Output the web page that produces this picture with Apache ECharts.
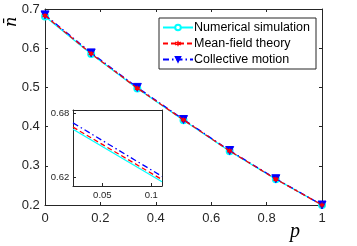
<!DOCTYPE html>
<html><head><meta charset="utf-8">
<script src="https://cdn.jsdelivr.net/npm/echarts@6/dist/echarts.min.js"></script>
<style>html,body{margin:0;padding:0;background:#fff}#c{width:357px;height:246px}</style>
</head><body><div id="c"></div>
<script>
// ---- data ----
const pValues = [0, 0.1667, 0.3333, 0.5, 0.6667, 0.8333, 1];
const numericalSim = [0.681, 0.585, 0.497, 0.416, 0.337, 0.266, 0.2];
const meanField = [0.683, 0.586, 0.498, 0.417, 0.338, 0.266, 0.2];
const collective = [0.685, 0.588, 0.500, 0.418, 0.339, 0.267, 0.2];
const xTicks = [0, 0.2, 0.4, 0.6, 0.8, 1];
const yTicks = [0.2, 0.3, 0.4, 0.5, 0.6, 0.7];
// inset (zoom near p = 0.02 .. 0.11)
const insetP = [0.02, 0.111];
const insetNumerical = [0.665, 0.616];
const insetMeanField = [0.667, 0.618];
const insetCollective = [0.671, 0.621];
const insetXTicks = [0.05, 0.1];
const insetYTicks = [0.62, 0.68];
const seriesNames = ['Numerical simulation', 'Mean-field theory', 'Collective motion'];

const AX = '#262626';
const CYAN = '#00ffff', RED = '#ff0000', BLUE = '#0000ff';
const asterisk = 'path://M0,-5L0,5M-4.3,-2.5L4.3,2.5M-4.3,2.5L4.3,-2.5';
const pairs = (xs, ys) => xs.map((x, i) => [x, ys[i]]);

const chart = echarts.init(document.getElementById('c'), null, {renderer: 'canvas'});
const tickFont = {fontFamily: 'Liberation Sans, Arial, sans-serif', color: AX};

function boxAxes(gridIndex, xmin, xmax, ymin, ymax, xT, yT, fs, mirrorTicks) {
  const xa = [], ya = [];
  xa.push({type: 'value', gridIndex, min: xmin, max: xmax, position: 'bottom',
    axisLine: {show: true, onZero: false, lineStyle: {color: AX, width: 1}},
    axisTick: {show: true, inside: true, length: 3, customValues: xT, lineStyle: {color: AX}},
    axisLabel: {show: true, customValues: xT, fontSize: fs, margin: fs * 0.5, ...tickFont,
      formatter: v => String(+v.toFixed(3))},
    splitLine: {show: false}});
  xa.push({type: 'value', gridIndex, min: xmin, max: xmax, position: 'top',
    axisLine: {show: true, onZero: false, lineStyle: {color: AX, width: 1}},
    axisTick: {show: mirrorTicks, inside: true, length: 3, customValues: xT, lineStyle: {color: AX}},
    axisLabel: {show: false}, splitLine: {show: false}});
  ya.push({type: 'value', gridIndex, min: ymin, max: ymax, position: 'left',
    axisLine: {show: true, onZero: false, lineStyle: {color: AX, width: 1}},
    axisTick: {show: true, inside: true, length: 3, customValues: yT, lineStyle: {color: AX}},
    axisLabel: {show: true, customValues: yT, fontSize: fs, margin: fs * 0.4, ...tickFont,
      formatter: v => String(+v.toFixed(3))},
    splitLine: {show: false}});
  ya.push({type: 'value', gridIndex, min: ymin, max: ymax, position: 'right',
    axisLine: {show: true, onZero: false, lineStyle: {color: AX, width: 1}},
    axisTick: {show: mirrorTicks, inside: true, length: 3, customValues: yT, lineStyle: {color: AX}},
    axisLabel: {show: false}, splitLine: {show: false}});
  return {xa, ya};
}
const m = boxAxes(0, 0, 1, 0.2, 0.7, xTicks, yTicks, 13, true);
const ins = boxAxes(1, 0.02, 0.111, 0.612, 0.683, insetXTicks, insetYTicks, 9.5, false);

function mk(name, data, xi, yi, color, ltype, symbol, sym, extra) {
  return Object.assign({name, type: 'line', data, xAxisIndex: xi, yAxisIndex: yi,
    color, lineStyle: {color, width: 1.3, type: ltype}, symbol, symbolSize: sym,
    showSymbol: sym > 0, animation: false, clip: true}, extra || {});
}
const series = [
  mk(seriesNames[0], pairs(pValues, numericalSim), 0, 0, CYAN, 'solid', 'emptyCircle', 6,
     {itemStyle: {color: CYAN, borderColor: CYAN, borderWidth: 1.2}, z: 2}),
  mk(seriesNames[2], pairs(pValues, collective), 0, 0, BLUE, [6, 3, 1.5, 3], 'triangle', 8,
     {symbolRotate: 180, itemStyle: {color: BLUE, borderColor: BLUE, borderWidth: 1}, z: 3}),
  mk(seriesNames[1], pairs(pValues, meanField), 0, 0, RED, [5, 3], asterisk, 5,
     {itemStyle: {color: 'none', borderColor: RED, borderWidth: 1.3}, z: 4}),
  mk('i0', pairs(insetP, insetNumerical), 2, 2, CYAN, 'solid', 'none', 0),
  mk('i1', pairs(insetP, insetMeanField), 2, 2, RED, [5, 3], 'none', 0),
  mk('i2', pairs(insetP, insetCollective), 2, 2, BLUE, [6, 3, 1.5, 3], 'none', 0)
];

chart.setOption({
  backgroundColor: '#fff',
  animation: false,
  grid: [
    {left: 45, top: 9, width: 277, height: 196, containLabel: false},
    {left: 73, top: 110, width: 89, height: 76, show: true, backgroundColor: '#fff', borderWidth: 0, z: 5}
  ],
  xAxis: [...m.xa, ...ins.xa.map(a => Object.assign(a, {z: 6}))],
  yAxis: [...m.ya, ...ins.ya.map(a => Object.assign(a, {z: 6}))],
  legend: {
    data: seriesNames, orient: 'vertical', left: 159, top: 18, width: 155,
    backgroundColor: '#fff', borderColor: AX, borderWidth: 1, borderRadius: 0,
    padding: [3, 6, 3, 3], itemWidth: 30, itemHeight: 7, itemGap: 3,
    itemStyle: {borderWidth: 1.2},
    textStyle: {fontFamily: 'Liberation Sans, Arial, sans-serif', fontSize: 12.5, color: '#000', padding: [0, 0, 0, -4]},
    z: 10
  },
  series: series.map((s, i) => i >= 3 ? Object.assign(s, {z: 7}) : s),
  graphic: [
    {type: 'text', x: 4, y: 27, rotation: Math.PI / 2, z: 20,
     style: {text: 'n\u0304', font: 'italic 16px "DejaVu Serif", serif', fill: '#000'}},
    {type: 'text', left: 290, top: 222, z: 20,
     style: {text: 'p', font: 'italic 20px "Liberation Serif", serif', fill: '#000'}}
  ]
});
</script></body></html>
